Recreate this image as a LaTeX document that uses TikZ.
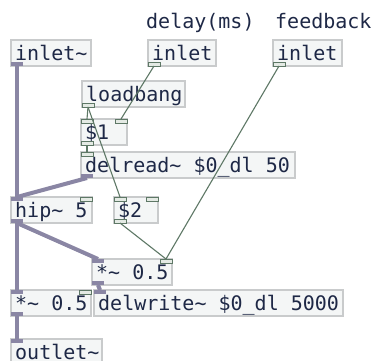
\documentclass[tikz,border=0pt]{standalone}
\usepackage{fontspec}
\setmonofont{DejaVu Sans Mono}
\definecolor{boxfill}{HTML}{F4F6F6}
\definecolor{boxline}{HTML}{C9CBCC}
\definecolor{pdtext}{HTML}{1E2846}
\definecolor{sigcord}{HTML}{8A86A4}
\definecolor{ctlcord}{HTML}{5E7866}
\definecolor{ctlfill}{HTML}{E4EAE4}

\tikzset{
  pdbox/.style={draw=boxline, fill=boxfill, line width=1.5pt, minimum height=26pt,
    inner sep=0pt, outer sep=0pt, anchor=north west},
  pdlabel/.style={font=\ttfamily\fontsize{20}{20}\selectfont, text=pdtext,
    inner sep=0pt, anchor=base west},
  sigport/.style={fill=sigcord, minimum width=12pt, minimum height=4pt,
    inner sep=0pt, outer sep=0pt},
  ctlport/.style={draw=ctlcord, fill=ctlfill, line width=0.8pt, minimum width=12pt,
    minimum height=4pt, inner sep=0pt, outer sep=0pt},
  sigwire/.style={draw=sigcord, line width=4pt},
  ctlwire/.style={draw=ctlcord, line width=1.1pt},
}

% object box: name, left, top, width, text
\newcommand\pdobj[5]{%
  \node[pdbox, minimum width=#4pt] (#1) at (#2,#3) {};
  \node[pdlabel] (#1-txt) at ([xshift=4pt,yshift=-20pt]#1.north west) {#5};
}
% inlet: style, name, box, side (west/east)
\newcommand\pdin[4]{\node[#1, anchor=north #4] (#2) at (#3.north #4) {};}
% outlet: style, name, box
\newcommand\pdout[3]{\node[#1, anchor=south west] (#2) at (#3.south west) {};}
\newcommand\tl{\char"7E\relax}

\begin{document}
\begin{tikzpicture}[x=1pt, y=-1pt]
  \clip (0,0) rectangle (372,360);
  \fill[white] (0,0) rectangle (372,360);

  % comments
  \node[pdlabel] (lbldelay) at (146,28) {delay(ms)};
  \node[pdlabel] (lblfb) at (275,28) {feedback};

  % objects
  \pdobj{sigin}{11}{40}{80}{inlet\tl}
  \pdobj{dlin}{148}{40}{68}{inlet}
  \pdobj{fbin}{273}{40}{69}{inlet}
  \pdobj{lb}{82}{81}{103}{loadbang}
  \pdobj{da}{81}{119}{46}{\$1}
  \pdobj{dread}{81}{152}{214}{delread\tl{} \$0\_dl 50}
  \pdobj{hip}{11}{197}{81}{hip\tl{} 5}
  \pdobj{db}{114}{197}{44}{\$2}
  \pdobj{mulfb}{92}{259}{80}{*\tl{} 0.5}
  \pdobj{muldry}{11}{290}{80}{*\tl{} 0.5}
  \pdobj{dwrite}{94}{290}{249}{delwrite\tl{} \$0\_dl 5000}
  \pdobj{sigout}{11}{339}{91}{outlet\tl}

  % inlets and outlets
  \pdout{sigport}{sigin-o}{sigin}
  \pdout{ctlport}{dlin-o}{dlin}
  \pdout{ctlport}{fbin-o}{fbin}
  \pdout{ctlport}{lb-o}{lb}
  \pdin{ctlport}{da-i0}{da}{west}
  \pdin{ctlport}{da-i1}{da}{east}
  \pdout{ctlport}{da-o}{da}
  \pdin{ctlport}{dread-i}{dread}{west}
  \pdout{sigport}{dread-o}{dread}
  \pdin{sigport}{hip-i0}{hip}{west}
  \pdin{ctlport}{hip-i1}{hip}{east}
  \pdout{sigport}{hip-o}{hip}
  \pdin{ctlport}{db-i0}{db}{west}
  \pdin{ctlport}{db-i1}{db}{east}
  \pdout{ctlport}{db-o}{db}
  \pdin{sigport}{mulfb-i0}{mulfb}{west}
  \pdin{ctlport}{mulfb-i1}{mulfb}{east}
  \pdout{sigport}{mulfb-o}{mulfb}
  \pdin{sigport}{muldry-i0}{muldry}{west}
  \pdin{ctlport}{muldry-i1}{muldry}{east}
  \pdout{sigport}{muldry-o}{muldry}
  \pdin{sigport}{dwrite-i}{dwrite}{west}
  \pdin{sigport}{sigout-i}{sigout}{west}

  % signal cords
  \draw[sigwire] (sigin-o.south) -- (hip-i0.north);
  \draw[sigwire] (dread-o.south) -- (hip-i0.north);
  \draw[sigwire] (hip-o.south) -- (mulfb-i0.north);
  \draw[sigwire] (hip-o.south) -- (muldry-i0.north);
  \draw[sigwire] (mulfb-o.south) -- (dwrite-i.north);
  \draw[sigwire] (muldry-o.south) -- (sigout-i.north);

  % control cords
  \draw[ctlwire] (dlin-o.south) -- (da-i1.north);
  \draw[ctlwire] (fbin-o.south) -- (mulfb-i1.north);
  \draw[ctlwire] (lb-o.south) -- (da-i0.north);
  \draw[ctlwire] (lb-o.south) -- (db-i0.north);
  \draw[ctlwire] (da-o.south) -- (dread-i.north);
  \draw[ctlwire] (db-o.south) -- (mulfb-i1.north);
\end{tikzpicture}
\end{document}
